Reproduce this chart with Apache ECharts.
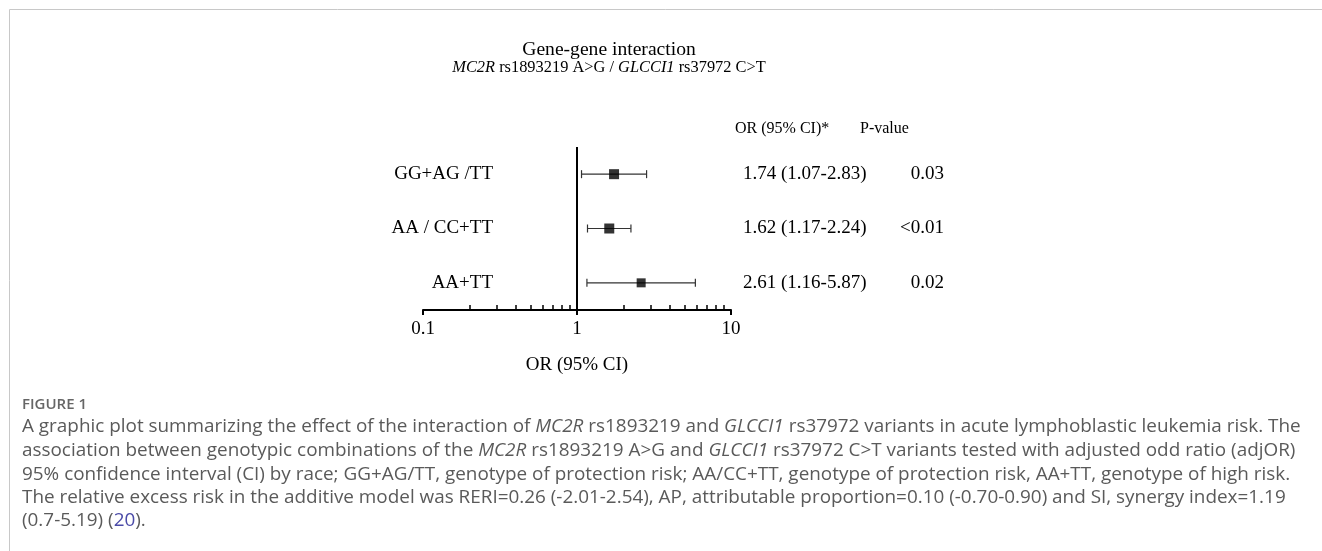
<!DOCTYPE html>
<html><head><meta charset="utf-8">
<script src="https://cdn.jsdelivr.net/npm/echarts@6/dist/echarts.min.js"></script>
<style>html,body{margin:0;padding:0;background:#fff}#c{width:1322px;height:551px}</style>
</head><body><div id="c"></div>
<script>
// ---- data ----
const categories = ['GG+AG /TT', 'AA / CC+TT', 'AA+TT'];
const orValues = [1.74, 1.62, 2.61];
const ciLow = [1.07, 1.17, 1.16];
const ciHigh = [2.83, 2.24, 5.87];
const pValues = ['0.03', '<0.01', '0.02'];
const markerSizes = [10, 10, 9];
const majorTicks = [0.1, 1, 10];
const minorTicks = [0.2, 0.3, 0.4, 0.5, 0.6, 0.7, 0.8, 0.9, 2, 3, 4, 5, 6, 7, 8, 9];
const refValue = 1;

const SERIF = "'Liberation Serif','Times New Roman',serif";
const SANS = "'Open Sans','Noto Sans',sans-serif";
const fmt = v => v.toFixed(2);
const orText = orValues.map((v, i) => fmt(v) + ' (' + fmt(ciLow[i]) + '-' + fmt(ciHigh[i]) + ')');

const captionLines = [
  'A graphic plot summarizing the effect of the interaction of {i|MC2R} rs1893219 and {i|GLCCI1} rs37972 variants in acute lymphoblastic leukemia risk. The',
  'association between genotypic combinations of the {i|MC2R} rs1893219 A>G and {i|GLCCI1} rs37972 C>T variants tested with adjusted odd ratio (adjOR)',
  '95% confidence interval (CI) by race; GG+AG/TT, genotype of protection risk; AA/CC+TT, genotype of protection risk, AA+TT, genotype of high risk.',
  'The relative excess risk in the additive model was RERI=0.26 (-2.01-2.54), AP, attributable proportion=0.10 (-0.70-0.90) and SI, synergy index=1.19',
  '(0.7-5.19) ({l|20}).'
];
const captionY = [427, 451, 475, 498, 521];

const chart = echarts.init(document.getElementById('c'), null, {renderer: 'canvas'});

const CAP_SIZE = 18.9;
const capFont = {fontFamily: SANS, fontSize: CAP_SIZE, fill: '#5a5a5a'};
const graphics = [
  {type: 'line', shape: {x1: 9.5, y1: 9.5, x2: 1322, y2: 9.5}, style: {stroke: '#c8c8c8', lineWidth: 1}, silent: true},
  {type: 'line', shape: {x1: 9.5, y1: 9.5, x2: 9.5, y2: 551}, style: {stroke: '#c8c8c8', lineWidth: 1}, silent: true},
  {type: 'text', x: 609, y: 50, style: {text: 'Gene-gene interaction', fontFamily: SERIF, fontSize: 19.6, fill: '#000', align: 'center', verticalAlign: 'middle'}},
  {type: 'text', x: 609, y: 68, style: {text: '{i|MC2R} rs1893219 A>G / {i|GLCCI1} rs37972 C>T', fontFamily: SERIF, fontSize: 16.4, fill: '#000', align: 'center', verticalAlign: 'middle',
    rich: {i: {fontStyle: 'italic', fontFamily: SERIF, fontSize: 16.4, fill: '#000'}}}},
  {type: 'text', x: 735, y: 129, style: {text: 'OR (95% CI)*', fontFamily: SERIF, fontSize: 16, fill: '#000', align: 'left', verticalAlign: 'middle'}},
  {type: 'text', x: 860, y: 129, style: {text: 'P-value', fontFamily: SERIF, fontSize: 16, fill: '#000', align: 'left', verticalAlign: 'middle'}},
  {type: 'text', x: 22, y: 405, style: {text: 'FIGURE 1', fontFamily: SANS, fontSize: 15, fontWeight: 600, fill: '#666', align: 'left', verticalAlign: 'middle'}}
];
captionLines.forEach((t, k) => {
  graphics.push({type: 'text', x: 22, y: captionY[k], style: Object.assign({text: t, align: 'left', verticalAlign: 'middle',
    rich: {i: {fontStyle: 'italic', fontFamily: SANS, fontSize: CAP_SIZE, fill: '#5a5a5a'}, l: {fontFamily: SANS, fontSize: CAP_SIZE, fill: '#4b4ba8'}}}, capFont)});
});

const option = {
  animation: false,
  backgroundColor: '#fff',
  grid: {left: 423, right: 591, top: 147, bottom: 241, containLabel: false, outerBoundsMode: 'none'},
  xAxis: [
    {type: 'log', logBase: 10, min: 0.1, max: 10, position: 'bottom',
      axisLine: {show: true, lineStyle: {color: '#000', width: 2}},
      axisTick: {show: true, length: 5, customValues: majorTicks, lineStyle: {color: '#000', width: 2}},
      axisLabel: {customValues: majorTicks, margin: 10, fontFamily: SERIF, fontSize: 19, color: '#000',
        formatter: v => String(Number(Number(v).toPrecision(3)))},
      splitLine: {show: false},
      name: 'OR (95% CI)', nameLocation: 'middle', nameGap: 46,
      nameTextStyle: {fontFamily: SERIF, fontSize: 19, color: '#000'}},
    {type: 'log', logBase: 10, min: 0.1, max: 10, position: 'bottom',
      axisLine: {show: false},
      axisTick: {show: true, inside: true, length: 5, customValues: minorTicks, lineStyle: {color: '#000', width: 1.5}},
      axisLabel: {show: false}, splitLine: {show: false}}
  ],
  yAxis: [
    {type: 'category', data: categories, inverse: true, position: 'left', offset: -70,
      axisLine: {show: false}, axisTick: {show: false}, splitLine: {show: false},
      axisLabel: {margin: 0, fontFamily: SERIF, fontSize: 19, color: '#000', align: 'right'}},
    {type: 'category', data: categories, inverse: true, position: 'right',
      axisLine: {show: false}, axisTick: {show: false}, splitLine: {show: false},
      axisLabel: {margin: 12, align: 'left', fontFamily: SERIF, fontSize: 19, color: '#000',
        formatter: (v, i) => orText[i]}},
    {type: 'category', data: categories, inverse: true, position: 'right', offset: 213,
      axisLine: {show: false}, axisTick: {show: false}, splitLine: {show: false},
      axisLabel: {margin: 0, align: 'right', fontFamily: SERIF, fontSize: 19, color: '#000',
        formatter: (v, i) => pValues[i]}}
  ],
  series: [
    {type: 'custom', xAxisIndex: 0, yAxisIndex: 0,
      data: categories.map((c, i) => [ciLow[i], ciHigh[i], i]),
      encode: {x: [0, 1], y: 2},
      renderItem: (params, api) => {
        const y = api.value(2);
        const a = api.coord([api.value(0), y]);
        const b = api.coord([api.value(1), y]);
        const h = 4;
        const st = {stroke: '#333', lineWidth: 1.2};
        return {type: 'group', children: [
          {type: 'line', shape: {x1: a[0], y1: a[1], x2: b[0], y2: b[1]}, style: st},
          {type: 'line', shape: {x1: a[0], y1: a[1] - h, x2: a[0], y2: a[1] + h}, style: st},
          {type: 'line', shape: {x1: b[0], y1: b[1] - h, x2: b[0], y2: b[1] + h}, style: st}
        ]};
      }},
    {type: 'scatter', xAxisIndex: 0, yAxisIndex: 0,
      data: orValues.map((v, i) => [v, i]),
      symbol: 'rect',
      symbolSize: (val, p) => markerSizes[p.dataIndex],
      itemStyle: {color: '#000'},
      markLine: {silent: true, symbol: 'none', label: {show: false},
        lineStyle: {color: '#000', width: 2, type: 'solid'},
        data: [{xAxis: refValue}]}}
  ],
  graphic: graphics
};
chart.setOption(option);
</script>
</body></html>
